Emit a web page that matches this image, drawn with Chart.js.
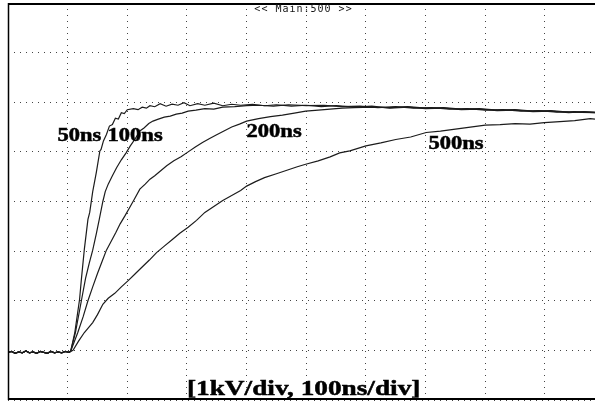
<!DOCTYPE html>
<html>
<head>
<meta charset="utf-8">
<script src="https://cdn.jsdelivr.net/npm/chart.js@4"></script>
<style>
  html, body { margin: 0; padding: 0; background: #fff; }
  #wrap { width: 595px; height: 401px; }
</style>
</head>
<body>
<div id="wrap"><canvas id="ctx_scope"></canvas></div>
<script>
// time in ns (trigger at 0), voltage in kV
var baseT = [-100, -94, -88, -82, -76, -70, -64, -58, -52, -46, -40, -34, -28, -22, -16, -10, -4, 2, 5];
var baseV = [-0.04, -0.02, -0.06, -0.03, -0.05, -0.01, -0.05, -0.03, -0.06, -0.02, -0.04, -0.06, -0.02, -0.05, -0.03, -0.05, -0.02, -0.04, -0.02];

var t50 = [12, 20, 23, 28, 34, 37, 42, 48, 54, 56, 60, 65, 70, 75, 80, 85, 90, 95, 100, 110, 118, 125, 132, 138, 146, 155, 165, 175, 185, 195, 205, 218, 230, 245, 260, 275, 290, 310, 330, 350, 375, 400, 425, 450, 480, 510, 540, 570, 600, 630, 660, 690, 720, 750, 780, 810, 840, 865, 884];
var v50 = [0.36, 1.03, 1.43, 2.04, 2.64, 2.78, 3.2, 3.58, 4.02, 4.05, 4.22, 4.35, 4.52, 4.55, 4.68, 4.66, 4.79, 4.77, 4.85, 4.87, 4.85, 4.9, 4.88, 4.93, 4.91, 4.97, 4.92, 4.96, 4.94, 4.99, 4.93, 4.97, 4.94, 4.98, 4.93, 4.96, 4.94, 4.96, 4.93, 4.95, 4.92, 4.94, 4.91, 4.93, 4.9, 4.92, 4.88, 4.9, 4.87, 4.88, 4.85, 4.86, 4.83, 4.84, 4.81, 4.82, 4.79, 4.81, 4.8];

var t100 = [13, 23, 30, 36, 42, 48, 53, 59, 63, 68, 75, 82, 90, 98, 105, 113, 121, 128, 136, 143, 152, 162, 172, 182, 192, 202, 215, 230, 245, 260, 280, 300, 320, 345, 370, 400, 430, 460, 490, 520, 550, 580, 610, 640, 670, 700, 730, 760, 790, 820, 850, 884];
var v100 = [0.36, 1.0, 1.45, 1.75, 2.02, 2.35, 2.64, 3.0, 3.2, 3.35, 3.52, 3.68, 3.84, 3.98, 4.12, 4.26, 4.42, 4.48, 4.57, 4.62, 4.66, 4.7, 4.72, 4.76, 4.78, 4.82, 4.84, 4.87, 4.86, 4.9, 4.91, 4.93, 4.94, 4.92, 4.95, 4.93, 4.94, 4.91, 4.92, 4.89, 4.91, 4.88, 4.89, 4.86, 4.87, 4.84, 4.85, 4.82, 4.83, 4.8, 4.81, 4.79];

var t200 = [17, 26, 34, 42, 50, 58, 65, 73, 81, 88, 96, 104, 112, 121, 130, 138, 146, 154, 166, 178, 190, 202, 214, 226, 238, 249, 262, 275, 288, 300, 320, 340, 360, 380, 399, 420, 440, 460, 480, 510, 540, 570, 600, 630, 660, 690, 720, 750, 780, 810, 840, 884];
var v200 = [0.36, 0.68, 1.0, 1.28, 1.55, 1.8, 2.02, 2.2, 2.38, 2.55, 2.71, 2.88, 3.05, 3.25, 3.35, 3.45, 3.52, 3.6, 3.72, 3.82, 3.9, 4.0, 4.1, 4.19, 4.27, 4.34, 4.42, 4.5, 4.56, 4.62, 4.67, 4.71, 4.74, 4.78, 4.82, 4.84, 4.86, 4.88, 4.89, 4.9, 4.89, 4.91, 4.88, 4.89, 4.86, 4.87, 4.84, 4.85, 4.82, 4.83, 4.8, 4.79];

var t500 = [9, 18, 28, 35, 42, 50, 59, 68, 79, 90, 101, 112, 124, 137, 149, 162, 175, 188, 202, 216, 230, 245, 260, 275, 290, 300, 315, 330, 350, 370, 385, 399, 420, 440, 456, 473, 500, 525, 550, 575, 601, 625, 650, 675, 700, 725, 750, 775, 799, 825, 850, 876, 884];
var v500 = [0.0, 0.18, 0.36, 0.46, 0.56, 0.72, 0.93, 1.05, 1.15, 1.28, 1.4, 1.53, 1.67, 1.82, 1.97, 2.1, 2.23, 2.36, 2.48, 2.62, 2.78, 2.9, 3.02, 3.12, 3.22, 3.31, 3.4, 3.48, 3.56, 3.64, 3.7, 3.75, 3.82, 3.9, 3.98, 4.02, 4.12, 4.18, 4.25, 4.3, 4.39, 4.42, 4.46, 4.5, 4.54, 4.55, 4.57, 4.56, 4.59, 4.61, 4.63, 4.67, 4.66];

var seriesNames = ['50ns', '100ns', '200ns', '500ns'];
var seriesT = [t50, t100, t200, t500];
var seriesV = [v50, v100, v200, v500];

// label anchors in data units (ns, kV)
var labelT = [-17, 67, 300, 605];
var labelV = [4.22, 4.22, 4.30, 4.06];
var footerText = '[1kV/div, 100ns/div]';
var headerText = '<< Main:500 >>';

function toPoints(t, v) {
    var pts = baseT.map(function(x, i) { return { x: x, y: baseV[i] }; });
    return pts.concat(t.map(function(x, i) { return { x: x, y: v[i] }; }));
}

function boldText(ctx, text, px, py, sx) {
    ctx.save();
    ctx.translate(px, py);
    ctx.scale(sx, 1);
    ctx.fillText(text, 0, 0);
    ctx.strokeText(text, 0, 0);
    ctx.restore();
}

var scopeText = {
    id: 'scopeText',
    afterDraw: function(chart) {
        var ctx = chart.ctx;
        var a = chart.chartArea;
        var xs = chart.scales.x;
        var ys = chart.scales.y;
        ctx.save();

        // frame
        ctx.strokeStyle = '#000';
        ctx.lineWidth = 2;
        ctx.beginPath();
        ctx.moveTo(a.left, a.top + 1);
        ctx.lineTo(a.right, a.top + 1);
        ctx.moveTo(a.left, a.bottom - 1);
        ctx.lineTo(a.right, a.bottom - 1);
        ctx.stroke();
        ctx.lineWidth = 1.5;
        ctx.beginPath();
        ctx.moveTo(a.left + 0.5, a.top);
        ctx.lineTo(a.left + 0.5, a.bottom);
        ctx.stroke();

        // trace labels
        ctx.fillStyle = '#000';
        ctx.strokeStyle = '#000';
        ctx.lineWidth = 0.5;
        ctx.textBaseline = 'alphabetic';
        ctx.font = 'bold 18px "Liberation Serif", serif';
        seriesNames.forEach(function(name, i) {
            boldText(ctx, name, xs.getPixelForValue(labelT[i]), ys.getPixelForValue(labelV[i]), 1.25);
        });

        ctx.font = 'bold 22px "Liberation Serif", serif';
        boldText(ctx, footerText, xs.getPixelForValue(200), ys.getPixelForValue(-0.9), 1.24);

        ctx.font = '10px "DejaVu Sans Mono", monospace';
        ctx.letterSpacing = '1px';
        ctx.fillStyle = '#111';
        ctx.fillText(headerText, xs.getPixelForValue(313), ys.getPixelForValue(6.82));
        ctx.restore();
    }
};

var ctx = document.getElementById('ctx_scope');
var myChart = new Chart(ctx, {
    type: 'line',
    data: {
        datasets: seriesNames.map(function(name, i) {
            return {
                label: name,
                data: toPoints(seriesT[i], seriesV[i]),
                borderColor: '#1c1c1c',
                borderWidth: 1.2,
                pointRadius: 0,
                tension: 0,
                fill: false
            };
        })
    },
    options: {
        responsive: true,
        maintainAspectRatio: false,
        animation: false,
        layout: { padding: { left: 8, top: 3, right: 0, bottom: 1 } },
        plugins: {
            legend: { display: false },
            tooltip: { enabled: false }
        },
        scales: {
            x: {
                type: 'linear',
                min: -100,
                max: 884,
                ticks: { display: false, stepSize: 100 },
                grid: { color: '#444', lineWidth: 1, drawTicks: false },
                border: { display: false, dash: [1, 5] }
            },
            y: {
                type: 'linear',
                min: -1,
                max: 7,
                ticks: { display: false, stepSize: 1 },
                grid: { color: '#444', lineWidth: 1, drawTicks: false },
                border: { display: false, dash: [1, 5] }
            }
        }
    },
    plugins: [scopeText]
});
</script>
</body>
</html>
